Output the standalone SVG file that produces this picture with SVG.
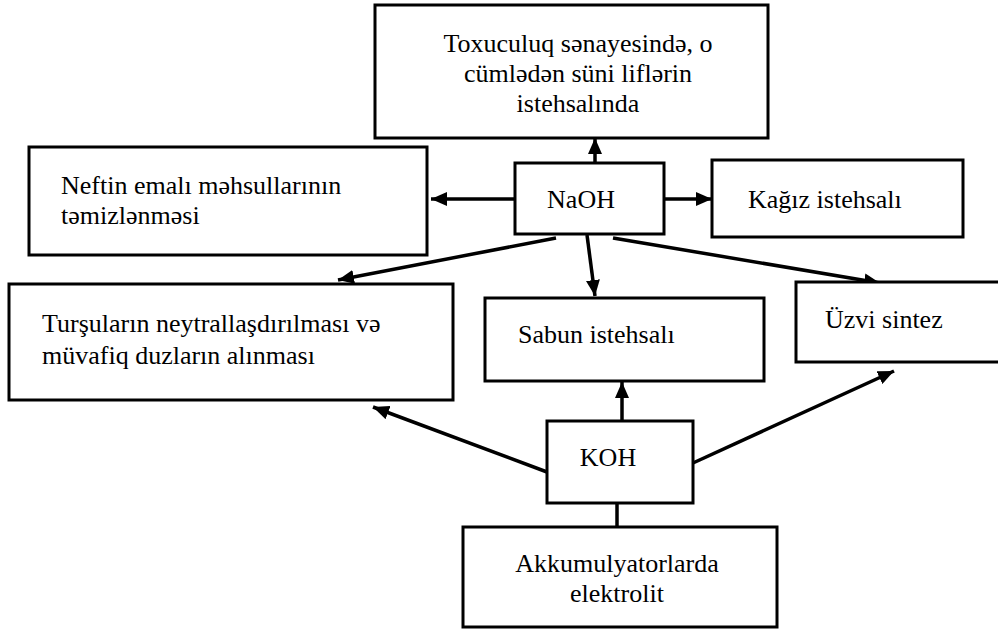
<svg xmlns="http://www.w3.org/2000/svg" width="998" height="629" viewBox="0 0 998 629">
<style>
.box{fill:#fff;stroke:#000;stroke-width:3}
.t{font-family:"Liberation Serif","Times New Roman",serif;font-size:26px;fill:#000}
.m{text-anchor:middle}
.c{stroke:#000;stroke-width:3.5;fill:none}
</style>
<defs>
<marker id="ah" markerUnits="userSpaceOnUse" markerWidth="18" markerHeight="14" refX="16" refY="7" orient="auto">
<path d="M0,0 L16,7 L0,14 z" fill="#000"/>
</marker>
</defs>
<rect width="998" height="629" fill="#fff"/>
<g id="connectors">
<line class="c" x1="595" y1="163" x2="595" y2="138" marker-end="url(#ah)"/>
<line class="c" x1="664" y1="199" x2="712" y2="199" marker-end="url(#ah)"/>
<line class="c" x1="515" y1="199" x2="431" y2="199" marker-end="url(#ah)"/>
<line class="c" x1="556" y1="238" x2="338" y2="280" marker-end="url(#ah)"/>
<line class="c" x1="587" y1="235" x2="595" y2="296" marker-end="url(#ah)"/>
<line class="c" x1="613" y1="238" x2="880" y2="283" marker-end="url(#ah)"/>
<line class="c" x1="622" y1="421" x2="622" y2="382" marker-end="url(#ah)"/>
<line class="c" x1="547" y1="472" x2="373" y2="407" marker-end="url(#ah)"/>
<line class="c" x1="693" y1="463" x2="894" y2="371" marker-end="url(#ah)"/>
<line class="c" x1="617" y1="503" x2="617" y2="527"/>
</g>
<g id="toxuculuq">
<rect class="box" x="375" y="5" width="393" height="133"/>
<text class="t m" x="578" y="52">Toxuculuq sənayesində, o</text>
<text class="t m" x="578" y="82">cümlədən süni liflərin</text>
<text class="t m" x="578" y="112">istehsalında</text>
</g>
<g id="neftin">
<rect class="box" x="29" y="147" width="398" height="108"/>
<text class="t" x="61" y="194">Neftin emalı məhsullarının</text>
<text class="t" x="61" y="224">təmizlənməsi</text>
</g>
<g id="naoh">
<rect class="box" x="515" y="163" width="149" height="71"/>
<text class="t m" x="581" y="208">NaOH</text>
</g>
<g id="kagiz">
<rect class="box" x="712" y="160" width="251" height="77"/>
<text class="t" x="748" y="208">Kağız istehsalı</text>
</g>
<g id="tursular">
<rect class="box" x="9" y="284" width="444" height="116"/>
<text class="t" x="42" y="332">Turşuların neytrallaşdırılması və</text>
<text class="t" x="42" y="364">müvafiq duzların alınması</text>
</g>
<g id="sabun">
<rect class="box" x="485" y="298" width="279" height="83"/>
<text class="t" x="518" y="343">Sabun istehsalı</text>
</g>
<g id="uzvi">
<rect class="box" x="796" y="282" width="220" height="80"/>
<text class="t" x="825" y="328">Üzvi sintez</text>
</g>
<g id="koh">
<rect class="box" x="547" y="421" width="146" height="82"/>
<text class="t m" x="608" y="466">KOH</text>
</g>
<g id="akku">
<rect class="box" x="463" y="527" width="314" height="100"/>
<text class="t m" x="617" y="572">Akkumulyatorlarda</text>
<text class="t m" x="617" y="602">elektrolit</text>
</g>
</svg>
